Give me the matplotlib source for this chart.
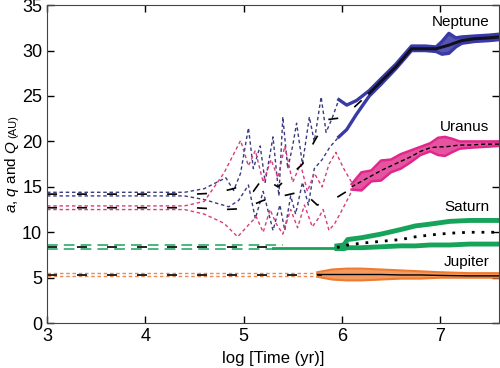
import matplotlib
matplotlib.use("Agg")
import matplotlib.pyplot as plt

plt.rcParams['font.family'] = ['Liberation Sans', 'DejaVu Sans']
plt.rcParams['mathtext.fontset'] = 'custom'
plt.rcParams['mathtext.it'] = 'Liberation Sans:italic'
plt.rcParams['mathtext.rm'] = 'Liberation Sans'

# ---- early / chaotic phase (dashed), log time vs AU ----
nep_Q_t = [3.0, 4.4, 4.6, 4.82, 4.9, 4.97, 5.05, 5.1, 5.17, 5.22, 5.3, 5.36, 5.4, 5.45,
           5.5, 5.54, 5.6, 5.67, 5.72, 5.79, 5.84, 5.9, 5.97]
nep_Q = [14.4, 14.4, 14.8, 16.0, 14.6, 16.5, 21.5, 17.0, 19.5, 15.5, 20.5, 14.0, 22.7, 17.0,
         19.5, 22.0, 17.5, 22.7, 20.0, 24.9, 21.0, 22.5, 24.6]
nep_q_t = [3.0, 4.4, 4.6, 4.85, 4.95, 5.05, 5.12, 5.2, 5.3, 5.37, 5.42, 5.48, 5.53, 5.6,
           5.66, 5.72, 5.8, 5.88, 5.97]
nep_q = [14.0, 14.0, 13.6, 12.8, 13.5, 15.2, 11.5, 14.5, 10.2, 13.0, 10.2, 14.0, 12.0, 15.5,
         13.0, 17.0, 18.0, 19.4, 20.5]
nep_a_t = [3.0, 4.5, 4.7, 4.9, 5.0, 5.1, 5.2, 5.35, 5.5, 5.6, 5.72, 5.85, 6.0, 6.1, 6.2, 6.28]
nep_a = [14.2, 14.2, 14.3, 14.8, 15.3, 14.5, 16.0, 15.0, 16.5, 17.5, 20.0, 22.4, 22.6, 23.5, 24.5, 25.3]

ura_Q_t = [3.0, 4.4, 4.6, 4.8, 4.97, 5.05, 5.12, 5.2, 5.28, 5.35, 5.42, 5.5, 5.58, 5.65,
           5.72, 5.8, 5.87, 5.94, 6.02, 6.1]
ura_Q = [12.9, 12.9, 13.4, 16.5, 20.1, 17.3, 19.0, 15.5, 18.0, 16.0, 19.5, 15.5, 17.5, 14.5,
         16.5, 15.0, 17.5, 18.8, 17.0, 15.5]
ura_q_t = [3.0, 4.4, 4.6, 4.8, 4.94, 5.05, 5.13, 5.2, 5.27, 5.33, 5.4, 5.48, 5.55, 5.62,
           5.7, 5.76, 5.81, 5.87, 5.93, 6.02, 6.1]
ura_q = [12.5, 12.5, 12.0, 11.0, 9.5, 10.8, 11.7, 10.0, 12.5, 11.0, 9.8, 12.5, 10.5, 13.0,
         10.6, 11.5, 12.5, 10.2, 11.0, 12.8, 14.5]
ura_a_t = [3.0, 4.5, 4.8, 5.0, 5.2, 5.4, 5.6, 5.75, 5.9, 6.05, 6.15]
ura_a = [12.7, 12.7, 12.5, 12.6, 13.5, 14.0, 14.5, 13.0, 13.5, 14.5, 15.0]

sat_t = [3.0, 5.4]
sat_Q = [8.6, 8.6]
sat_q = [8.2, 8.2]
sat_a = [8.4, 8.4]
sat_mid_t = [5.3, 5.95]
sat_mid = [8.3, 8.3]

jup_t = [3.0, 5.8]
jup_Q = [5.5, 5.5]
jup_q = [5.2, 5.2]
jup_a = [5.35, 5.35]

# ---- late phase (solid) ----
nep_s_t = [5.97, 6.05, 6.15, 6.28, 6.4, 6.55, 6.71, 6.85, 6.96, 7.02, 7.09, 7.16, 7.22, 7.35, 7.5, 7.6]
nep_s_Q = [24.6, 24.0, 24.5, 25.6, 26.9, 28.5, 30.5, 30.5, 30.4, 31.0, 31.9, 31.4, 31.5, 31.6, 31.7, 31.8]
nep_s_q = [20.5, 21.3, 23.0, 25.0, 26.3, 28.0, 30.0, 30.0, 29.9, 29.6, 29.7, 30.4, 30.8, 31.0, 31.1, 31.2]
nep_s_a_t = [6.28, 6.4, 6.55, 6.71, 6.85, 6.96, 7.09, 7.22, 7.35, 7.5, 7.6]
nep_s_a = [25.3, 26.6, 28.2, 30.2, 30.2, 30.2, 30.6, 31.1, 31.3, 31.4, 31.5]

ura_s_t = [6.1, 6.2, 6.3, 6.4, 6.5, 6.6, 6.7, 6.8, 6.9, 6.98, 7.05, 7.12, 7.2, 7.3, 7.45, 7.6]
ura_s_Q = [15.3, 16.6, 16.8, 17.9, 18.0, 18.6, 19.0, 19.4, 19.8, 20.4, 20.5, 20.3, 20.0, 20.0, 20.0, 20.0]
ura_s_q = [14.7, 14.6, 15.6, 15.7, 16.6, 17.0, 17.7, 18.5, 18.9, 18.5, 18.4, 18.8, 19.2, 19.3, 19.4, 19.5]
ura_s_a = [15.0, 15.6, 16.2, 16.8, 17.3, 17.8, 18.3, 18.9, 19.3, 19.4, 19.4, 19.5, 19.6, 19.6, 19.7, 19.7]

sat_s_t = [5.95, 6.02, 6.06, 6.2, 6.4, 6.6, 6.75, 6.9, 7.1, 7.3, 7.6]
sat_s_Q = [8.5, 8.6, 9.2, 9.4, 9.8, 10.3, 10.7, 10.9, 11.2, 11.3, 11.3]
sat_s_q = [8.2, 8.2, 8.3, 8.3, 8.4, 8.5, 8.5, 8.6, 8.6, 8.7, 8.7]
sat_s_a = [8.35, 8.4, 8.6, 8.8, 9.0, 9.2, 9.5, 9.7, 9.9, 10.0, 10.0]

jup_s_t = [5.75, 5.9, 6.05, 6.2, 6.4, 6.6, 6.8, 7.0, 7.3, 7.6]
jup_s_Q = [5.6, 5.9, 6.0, 6.0, 5.9, 5.8, 5.7, 5.6, 5.5, 5.5]
jup_s_q = [5.1, 4.8, 4.7, 4.7, 4.8, 4.9, 4.9, 5.0, 5.0, 5.0]
jup_s_a = [5.35, 5.35, 5.35, 5.35, 5.35, 5.3, 5.3, 5.25, 5.2, 5.2]

names = ['Neptune', 'Uranus', 'Saturn', 'Jupiter']
name_y = [33.1, 21.6, 12.8, 6.7]

nep_c, nep_dc = '#3a3aa6', '#3a3a80'
ura_c, ura_dc = '#e0288a', '#d83c7c'
sat_c = '#17a35a'
jup_c, jup_dc = '#f07a2e', '#e58a55'

fig = plt.figure(figsize=(5, 3.68), dpi=100)
ax = fig.add_axes([0.094, 0.122, 0.904, 0.864])

sd = dict(lw=1.0, dashes=(2.5, 2))
ax.plot(nep_Q_t, nep_Q, color=nep_dc, **sd)
ax.plot(nep_q_t, nep_q, color=nep_dc, **sd)
ax.plot(ura_Q_t, ura_Q, color=ura_dc, **sd)
ax.plot(ura_q_t, ura_q, color=ura_dc, **sd)
ax.plot(jup_t, jup_Q, color=jup_dc, **sd)
ax.plot(jup_t, jup_q, color=jup_dc, **sd)
ax.plot(sat_t, sat_Q, color=sat_c, lw=1.1, dashes=(7, 4))
ax.plot(sat_t, sat_q, color=sat_c, lw=1.1, dashes=(7, 4))
ax.plot(sat_mid_t, sat_mid, color=sat_c, lw=2.0)

# semi-major axes, sparse black dashes
ad = dict(color='black', lw=1.2, dashes=(6, 12))
ax.plot(nep_a_t, nep_a, **ad)
ax.plot(ura_a_t, ura_a, **ad)
ax.plot(sat_t, sat_a, **ad)
ax.plot(jup_t, jup_a, **ad)

# late phase
merged = [t >= 6.28 for t in nep_s_t]
ax.fill_between(nep_s_t, nep_s_q, nep_s_Q, where=merged, color=nep_c, lw=0, alpha=0.85)
ax.plot(nep_s_t, nep_s_Q, color=nep_c, lw=2.4)
ax.plot(nep_s_t, nep_s_q, color=nep_c, lw=2.4)
ax.plot(sat_s_t, sat_s_Q, color=sat_c, lw=3.5)
ax.plot(sat_s_t, sat_s_q, color=sat_c, lw=3.5)
ax.fill_between(ura_s_t, ura_s_q, ura_s_Q, color=ura_c, lw=0, alpha=0.8)
ax.plot(ura_s_t, ura_s_Q, color=ura_c, lw=1.8)
ax.plot(ura_s_t, ura_s_q, color=ura_c, lw=1.8)
ax.fill_between(jup_s_t, jup_s_q, jup_s_Q, color=jup_c, lw=0, alpha=0.75)
ax.plot(jup_s_t, jup_s_Q, color=jup_c, lw=1.5)
ax.plot(jup_s_t, jup_s_q, color=jup_c, lw=1.5)

ax.plot(nep_s_a_t, nep_s_a, color='#101020', lw=2.2)
ax.plot(ura_s_t, ura_s_a, color='black', lw=1.0, dashes=(3, 2))
ax.plot(sat_s_t, sat_s_a, color='black', lw=2.0, dashes=(1, 2.5))
ax.plot(jup_s_t, jup_s_a, color='black', lw=1.0)

for n, y in zip(names, name_y):
    ax.text(7.5, y, n, ha='right', va='center', fontsize=11)

ax.set_xlim(3, 7.6)
ax.set_ylim(0, 35)
ax.set_xticks([3, 4, 5, 6, 7])
ax.set_yticks(range(0, 36, 5))
ax.tick_params(direction='in', top=True, right=True, labelsize=13, length=5, width=1)
for s in ax.spines.values():
    s.set_color('#444444')
ax.set_xlabel('log [Time (yr)]', fontsize=12, labelpad=4)

# y label: main part plus smaller unit placed just above it
t1 = fig.text(0.024, 0.421, r'$a$, $q$ and $Q$', rotation=90, ha='center', va='bottom', fontsize=11)
fig.canvas.draw()
top = t1.get_window_extent().y1 / fig.bbox.height
fig.text(0.026, top + 0.006, '(AU)', rotation=90, ha='center', va='bottom', fontsize=8)

fig.savefig('out.png', dpi=100)
